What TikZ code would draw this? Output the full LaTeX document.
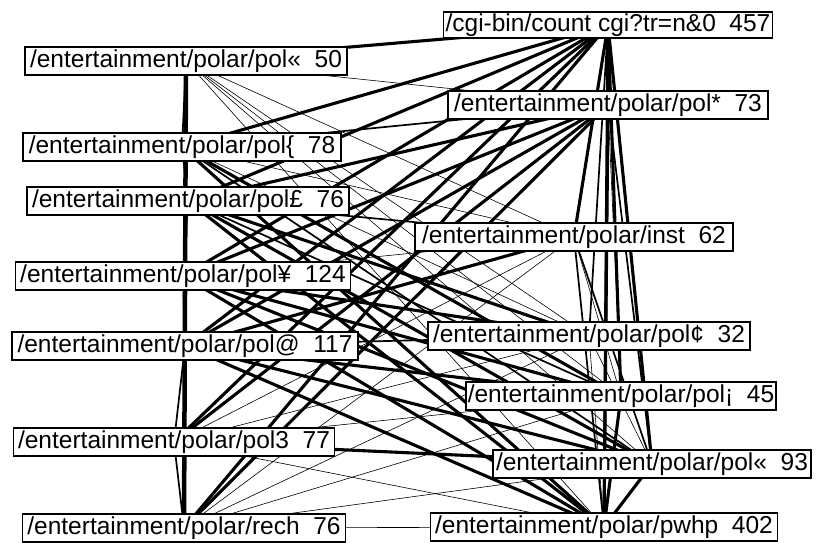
\documentclass[tikz,border=0pt]{standalone}
\usepackage{fontspec}
\setmainfont{Liberation Sans}
\usetikzlibrary{backgrounds}
\tikzset{
  lbl/.style={draw, line width=1.4pt, fill=white, inner sep=0pt, minimum height=28pt,
    font=\fontsize{24.5}{27}\selectfont},
  T/.style={line width=3.1pt},
  TT/.style={line width=4.5pt},
  M/.style={line width=1.7pt},
  t/.style={line width=0.6pt}
}
\begin{document}
\begin{tikzpicture}[x=1pt,y=-1pt]
\useasboundingbox (0,0) rectangle (816,544);
% nodes (pixel coordinates, y downward)
\node[lbl, minimum width=329pt, minimum height=26pt] (cgi)  at (608,25)  {/cgi-bin/count cgi?tr=n\&0\ \ 457};
\node[lbl, minimum width=322pt] (p50)  at (186,61)  {/entertainment/polar/pol«\ \ 50};
\node[lbl, minimum width=320pt] (p73)  at (608,105) {/entertainment/polar/pol*\ \ 73};
\node[lbl, minimum width=318pt] (p78)  at (182,147) {/entertainment/polar/pol\{\ \ 78};
\node[lbl, minimum width=322pt] (p76)  at (188,201) {/entertainment/polar/pol£\ \ 76};
\node[lbl, minimum width=318pt] (inst) at (574,237) {/entertainment/polar/inst\ \ 62};
\node[lbl, minimum width=335pt] (p124) at (183,276) {/entertainment/polar/pol¥\ \ 124};
\node[lbl, minimum width=346pt] (p117) at (185,346) {/entertainment/polar/pol@\ \ 117};
\node[lbl, minimum width=322pt] (p32)  at (589,336) {/entertainment/polar/pol¢\ \ 32};
\node[lbl, minimum width=310pt] (p45)  at (621,396) {/entertainment/polar/pol¡\ \ 45};
\node[lbl, minimum width=321pt] (p77)  at (174,442) {/entertainment/polar/pol3\ \ 77};
\node[lbl, minimum width=318pt] (p93)  at (652,464) {/entertainment/polar/pol«\ \ 93};
\node[lbl, minimum width=323pt] (rech) at (184,528) {/entertainment/polar/rech\ \ 76};
\node[lbl, minimum width=347pt] (pwhp) at (604,527) {/entertainment/polar/pwhp\ \ 402};
\begin{scope}[on background layer, line cap=round]
% left column chain (nearly vertical)
\draw[TT] (p50.center) -- (rech.center);
\foreach \a/\b in {p50/p78, p78/p76, p76/p124, p124/p117, p117/p77, p77/rech}
  \draw[M] (\a.center) -- (\b.center);
% right column bundle
\foreach \a/\b in {cgi/pwhp, cgi/p93, cgi/p45, cgi/inst, p73/pwhp, p45/pwhp, p93/pwhp, cgi/p73}
  \draw[T] (\a.center) -- (\b.center);
\foreach \a/\b in {cgi/p32, p73/p93, inst/p93, inst/pwhp}
  \draw[M] (\a.center) -- (\b.center);
\foreach \a/\b in {p32/pwhp, p73/p45, inst/p45, p32/p93}
  \draw[t] (\a.center) -- (\b.center);
% cross edges
\foreach \a/\b in {p50/cgi, p78/cgi, p76/cgi, p124/cgi, p117/cgi, p77/cgi, rech/cgi,
    p78/pwhp, p78/p45,
    p76/p73, p76/p32, p76/p93, p76/pwhp,
    p124/p73, p124/p32, p124/p45, p124/p93, p124/pwhp,
    p117/p73, p117/inst, p117/p45, p117/p93, p117/pwhp,
    p77/p73, p77/p93, rech/p73}
  \draw[T] (\a.center) -- (\b.center);
\foreach \a/\b in {p78/p73, p78/p93, p76/inst, p76/p45, p117/p32}
  \draw[M] (\a.center) -- (\b.center);
\foreach \a/\b in {p50/p73, p50/inst, p50/p32, p50/p45, p50/p93, p50/pwhp,
    p78/inst, p78/p32, p124/inst, p77/inst, p77/p32, p77/p45, p77/pwhp,
    rech/inst, rech/p32, rech/p45, rech/p93, rech/pwhp}
  \draw[t] (\a.center) -- (\b.center);
\end{scope}
\end{tikzpicture}
\end{document}
